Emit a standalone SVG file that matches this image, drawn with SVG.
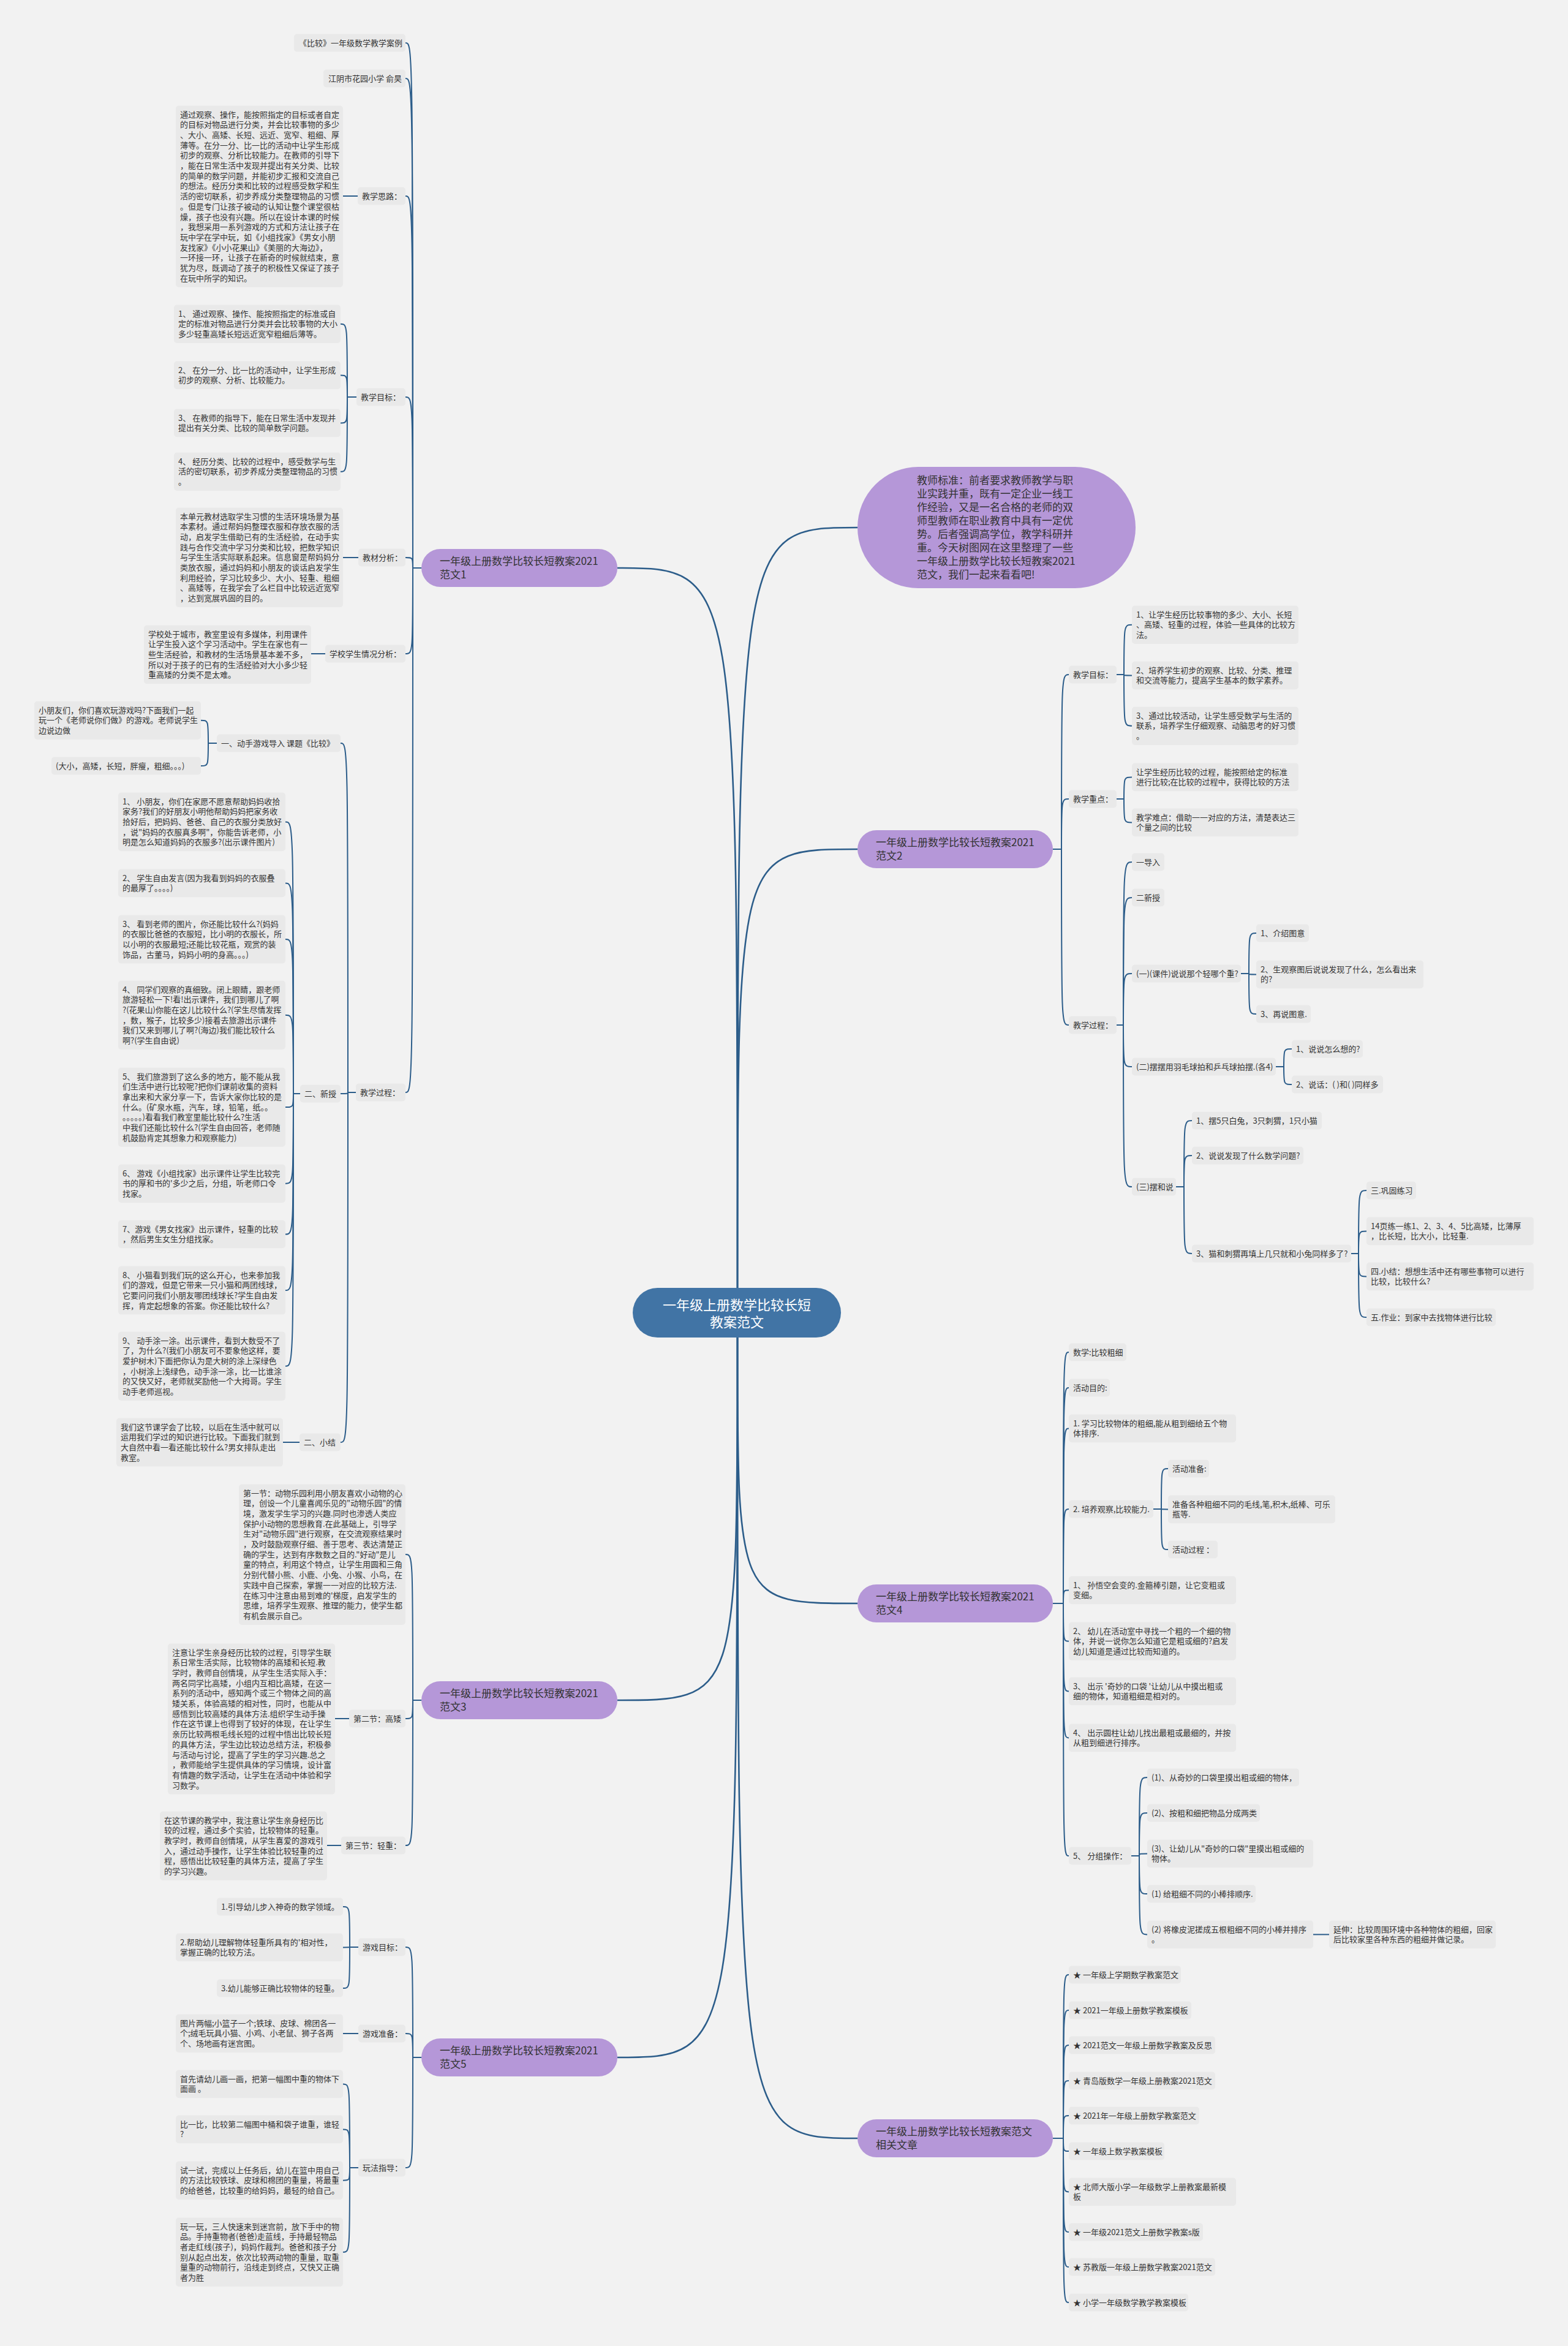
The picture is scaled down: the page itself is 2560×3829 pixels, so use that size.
<svg xmlns="http://www.w3.org/2000/svg" width="2560" height="3829" viewBox="0 0 2560 3829">
<style>
.nd rect{fill:#e9e9e9}
.nd text{font-family:"Noto Sans CJK SC","Microsoft YaHei",sans-serif;font-size:13px;fill:#333}
.br rect{fill:#b597d8}
.br text{font-family:"Noto Sans CJK SC","Microsoft YaHei",sans-serif;font-size:17px;fill:#333}
.rt rect{fill:#4174a5}
.rt text{font-family:"Noto Sans CJK SC","Microsoft YaHei",sans-serif;font-size:22px;fill:#fff;text-anchor:middle}
.cn path{fill:none;stroke:#2c5d8a;stroke-width:2}
.cn path.m{stroke-width:2.6}
</style>
<rect width="2560" height="3829" fill="#f2f2f2"/>
<g class="cn" id="connectors">
<path class="m" d="M1204,2102 C1204,927 1204,927 1008,927"/>
<path class="m" d="M1204,2102 C1204,861 1204,861 1400,861"/>
<path class="m" d="M1204,2102 C1204,1386 1204,1386 1400,1386"/>
<path class="m" d="M1204,2183 C1204,2775 1204,2775 1008,2775"/>
<path class="m" d="M1204,2183 C1204,3358 1204,3358 1008,3358"/>
<path class="m" d="M1204,2183 C1204,2617 1204,2617 1400,2617"/>
<path class="m" d="M1204,2183 C1204,3490 1204,3490 1400,3490"/>
<path d="M688,927 H674"/>
<path d="M674,927 C674,70 674,70 662,70"/>
<path d="M674,927 C674,128 674,128 662,128"/>
<path d="M674,927 C674,320 674,320 662,320"/>
<path d="M674,927 C674,648 674,648 662,648"/>
<path d="M674,927 C674,910 674,910 662,910"/>
<path d="M674,927 C674,1067 674,1067 662,1067"/>
<path d="M674,927 C674,1783 674,1783 662,1783"/>
<path d="M584,320 H560"/>
<path d="M582,648 H567"/>
<path d="M567,648 C567,528.7 567,528.7 556,528.7"/>
<path d="M567,648 C567,612.4 567,612.4 556,612.4"/>
<path d="M567,648 C567,690.4 567,690.4 556,690.4"/>
<path d="M567,648 C567,769.7 567,769.7 556,769.7"/>
<path d="M585,910 H560"/>
<path d="M531,1067 H508"/>
<path d="M581,1783 H568"/>
<path d="M568,1783 C568,1213 568,1213 556,1213"/>
<path d="M568,1783 C568,1785 568,1785 556,1785"/>
<path d="M568,1783 C568,2354 568,2354 556,2354"/>
<path d="M354,1213 H340"/>
<path d="M340,1213 C340,1175.7 340,1175.7 328,1175.7"/>
<path d="M340,1213 C340,1250 340,1250 328,1250"/>
<path d="M490,1785 H479"/>
<path d="M479,1785 C479,1341.4 479,1341.4 466,1341.4"/>
<path d="M479,1785 C479,1441.4 479,1441.4 466,1441.4"/>
<path d="M479,1785 C479,1533 479,1533 466,1533"/>
<path d="M479,1785 C479,1656.8 479,1656.8 466,1656.8"/>
<path d="M479,1785 C479,1807.1 479,1807.1 466,1807.1"/>
<path d="M479,1785 C479,1931.7 479,1931.7 466,1931.7"/>
<path d="M479,1785 C479,2014.4 479,2014.4 466,2014.4"/>
<path d="M479,1785 C479,2106 479,2106 466,2106"/>
<path d="M479,1785 C479,2229.8 479,2229.8 466,2229.8"/>
<path d="M489,2354 H462"/>
<path d="M688,2775 H674"/>
<path d="M674,2775 C674,2537 674,2537 662,2537"/>
<path d="M674,2775 C674,2805 674,2805 662,2805"/>
<path d="M674,2775 C674,3012 674,3012 662,3012"/>
<path d="M570,2805 H547"/>
<path d="M557,3012 H534"/>
<path d="M688,3358 H674"/>
<path d="M674,3358 C674,3178 674,3178 662,3178"/>
<path d="M674,3358 C674,3319 674,3319 662,3319"/>
<path d="M674,3358 C674,3538 674,3538 662,3538"/>
<path d="M585,3178 H571"/>
<path d="M571,3178 C571,3112 571,3112 560,3112"/>
<path d="M571,3178 C571,3178.4 571,3178.4 560,3178.4"/>
<path d="M571,3178 C571,3245 571,3245 560,3245"/>
<path d="M585,3319 H560"/>
<path d="M585,3538 H571"/>
<path d="M571,3538 C571,3401.4 571,3401.4 560,3401.4"/>
<path d="M571,3538 C571,3475.4 571,3475.4 560,3475.4"/>
<path d="M571,3538 C571,3558.7 571,3558.7 560,3558.7"/>
<path d="M571,3538 C571,3675.8 571,3675.8 560,3675.8"/>
<path d="M1719,1386 H1733"/>
<path d="M1733,1386 C1733,1101 1733,1101 1745,1101"/>
<path d="M1733,1386 C1733,1304 1733,1304 1745,1304"/>
<path d="M1733,1386 C1733,1673 1733,1673 1745,1673"/>
<path d="M1823,1101 H1835"/>
<path d="M1835,1101 C1835,1019.7 1835,1019.7 1848,1019.7"/>
<path d="M1835,1101 C1835,1102.4 1835,1102.4 1848,1102.4"/>
<path d="M1835,1101 C1835,1184.7 1835,1184.7 1848,1184.7"/>
<path d="M1823,1304 H1835"/>
<path d="M1835,1304 C1835,1268.4 1835,1268.4 1848,1268.4"/>
<path d="M1835,1304 C1835,1342.4 1835,1342.4 1848,1342.4"/>
<path d="M1823,1673 H1834"/>
<path d="M1834,1673 C1834,1407 1834,1407 1848,1407"/>
<path d="M1834,1673 C1834,1465 1834,1465 1848,1465"/>
<path d="M1834,1673 C1834,1589 1834,1589 1848,1589"/>
<path d="M1834,1673 C1834,1741 1834,1741 1848,1741"/>
<path d="M1834,1673 C1834,1937 1834,1937 1848,1937"/>
<path d="M2026,1589 H2039"/>
<path d="M2039,1589 C2039,1523 2039,1523 2051,1523"/>
<path d="M2039,1589 C2039,1590.4 2039,1590.4 2051,1590.4"/>
<path d="M2039,1589 C2039,1655 2039,1655 2051,1655"/>
<path d="M2083,1741 H2096"/>
<path d="M2096,1741 C2096,1712 2096,1712 2109,1712"/>
<path d="M2096,1741 C2096,1770 2096,1770 2109,1770"/>
<path d="M1920,1937 H1933"/>
<path d="M1933,1937 C1933,1829 1933,1829 1946,1829"/>
<path d="M1933,1937 C1933,1886 1933,1886 1946,1886"/>
<path d="M1933,1937 C1933,2046 1933,2046 1946,2046"/>
<path d="M2206,2046 H2218"/>
<path d="M2218,2046 C2218,1943 2218,1943 2231,1943"/>
<path d="M2218,2046 C2218,2009.4 2218,2009.4 2231,2009.4"/>
<path d="M2218,2046 C2218,2083.4 2218,2083.4 2231,2083.4"/>
<path d="M2218,2046 C2218,2150 2218,2150 2231,2150"/>
<path d="M1719,2617 H1736"/>
<path d="M1736,2617 C1736,2207 1736,2207 1745,2207"/>
<path d="M1736,2617 C1736,2265 1736,2265 1745,2265"/>
<path d="M1736,2617 C1736,2331.4 1736,2331.4 1745,2331.4"/>
<path d="M1736,2617 C1736,2463 1736,2463 1745,2463"/>
<path d="M1736,2617 C1736,2595.4 1736,2595.4 1745,2595.4"/>
<path d="M1736,2617 C1736,2678.7 1736,2678.7 1745,2678.7"/>
<path d="M1736,2617 C1736,2760.4 1736,2760.4 1745,2760.4"/>
<path d="M1736,2617 C1736,2836.4 1736,2836.4 1745,2836.4"/>
<path d="M1736,2617 C1736,3029 1736,3029 1745,3029"/>
<path d="M1883,2463 H1896"/>
<path d="M1896,2463 C1896,2397 1896,2397 1907,2397"/>
<path d="M1896,2463 C1896,2463.4 1896,2463.4 1907,2463.4"/>
<path d="M1896,2463 C1896,2529 1896,2529 1907,2529"/>
<path d="M1847,3029 H1860"/>
<path d="M1860,3029 C1860,2901 1860,2901 1873,2901"/>
<path d="M1860,3029 C1860,2959 1860,2959 1873,2959"/>
<path d="M1860,3029 C1860,3025.4 1860,3025.4 1873,3025.4"/>
<path d="M1860,3029 C1860,3091 1860,3091 1873,3091"/>
<path d="M1860,3029 C1860,3157.4 1860,3157.4 1873,3157.4"/>
<path d="M2144,3157.4 H2170"/>
<path d="M1719,3490 H1736"/>
<path d="M1736,3490 C1736,3223 1736,3223 1745,3223"/>
<path d="M1736,3490 C1736,3281 1736,3281 1745,3281"/>
<path d="M1736,3490 C1736,3338 1736,3338 1745,3338"/>
<path d="M1736,3490 C1736,3396 1736,3396 1745,3396"/>
<path d="M1736,3490 C1736,3453 1736,3453 1745,3453"/>
<path d="M1736,3490 C1736,3511 1736,3511 1745,3511"/>
<path d="M1736,3490 C1736,3577.4 1736,3577.4 1745,3577.4"/>
<path d="M1736,3490 C1736,3643 1736,3643 1745,3643"/>
<path d="M1736,3490 C1736,3700 1736,3700 1745,3700"/>
<path d="M1736,3490 C1736,3758 1736,3758 1745,3758"/>
</g>

<g id="root" class="rt"><rect x="1033" y="2102" width="340" height="81" rx="40.5"/><text x="1203" y="2138">一年级上册数学比较长短</text><text x="1203" y="2166">教案范文</text></g>

<g id="intro" class="br"><rect x="1400" y="762" width="454" height="198" rx="99"/><text x="1497"><tspan x="1497" y="790">教师标准：前者要求教师教学与职</tspan><tspan x="1497" y="812">业实践并重，既有一定企业一线工</tspan><tspan x="1497" y="834">作经验，又是一名合格的老师的双</tspan><tspan x="1497" y="856">师型教师在职业教育中具有一定优</tspan><tspan x="1497" y="878">势。后者强调高学位，教学科研并</tspan><tspan x="1497" y="900">重。今天树图网在这里整理了一些</tspan><tspan x="1497" y="922">一年级上册数学比较长短教案2021</tspan><tspan x="1497" y="944">范文，我们一起来看看吧!</tspan></text></g>

<g id="b1" class="br"><rect x="688" y="896" width="320" height="62" rx="31"/><text><tspan x="718" y="922">一年级上册数学比较长短教案2021</tspan><tspan x="718" y="944">范文1</tspan></text></g>
<g id="b3" class="br"><rect x="688" y="2744" width="320" height="62" rx="31"/><text><tspan x="718" y="2770">一年级上册数学比较长短教案2021</tspan><tspan x="718" y="2792">范文3</tspan></text></g>
<g id="b5" class="br"><rect x="688" y="3327" width="320" height="62" rx="31"/><text><tspan x="718" y="3353">一年级上册数学比较长短教案2021</tspan><tspan x="718" y="3375">范文5</tspan></text></g>
<g id="b2" class="br"><rect x="1400" y="1355" width="319" height="62" rx="31"/><text><tspan x="1430" y="1381">一年级上册数学比较长短教案2021</tspan><tspan x="1430" y="1403">范文2</tspan></text></g>
<g id="b4" class="br"><rect x="1400" y="2586" width="319" height="62" rx="31"/><text><tspan x="1430" y="2612">一年级上册数学比较长短教案2021</tspan><tspan x="1430" y="2634">范文4</tspan></text></g>
<g id="b6" class="br"><rect x="1400" y="3459" width="319" height="62" rx="31"/><text><tspan x="1430" y="3485">一年级上册数学比较长短教案范文</tspan><tspan x="1430" y="3507">相关文章</tspan></text></g>

<g id="n1-1" class="nd"><rect x="480" y="55.5" width="182" height="29" rx="5"/><text x="488" y="74.5">《比较》一年级数学教学案例</text></g>
<g id="n1-2" class="nd"><rect x="528" y="113.5" width="134" height="29" rx="5"/><text x="536" y="132.5">江阴市花园小学 俞昊</text></g>
<g id="n1-3" class="nd"><rect x="584" y="305.5" width="78" height="29" rx="5"/><text x="591" y="324.5">教学思路：</text></g>
<g id="n1-3a" class="nd"><rect x="287" y="172.5" width="273" height="296.2" rx="5"/><text><tspan x="294" y="191.5">通过观察、操作，能按照指定的目标或者自定</tspan><tspan x="294" y="208.2">的目标对物品进行分类，并会比较事物的多少</tspan><tspan x="294" y="224.9">、大小、高矮、长短、远近、宽窄、粗细、厚</tspan><tspan x="294" y="241.6">薄等。在分一分、比一比的活动中让学生形成</tspan><tspan x="294" y="258.3">初步的观察、分析比较能力。在教师的引导下</tspan><tspan x="294" y="275">，能在日常生活中发现并提出有关分类、比较</tspan><tspan x="294" y="291.7">的简单的数学问题，并能初步汇报和交流自己</tspan><tspan x="294" y="308.4">的想法。经历分类和比较的过程感受数学和生</tspan><tspan x="294" y="325.1">活的密切联系，初步养成分类整理物品的习惯</tspan><tspan x="294" y="341.8">。但是专门让孩子被动的认知让整个课堂很枯</tspan><tspan x="294" y="358.5">燥，孩子也没有兴趣。所以在设计本课的时候</tspan><tspan x="294" y="375.2">，我想采用一系列游戏的方式和方法让孩子在</tspan><tspan x="294" y="391.9">玩中学在学中玩，如《小组找家》《男女小朋</tspan><tspan x="294" y="408.6">友找家》《小小花果山》《美丽的大海边》，</tspan><tspan x="294" y="425.3">一环接一环，让孩子在新奇的时候就结束，意</tspan><tspan x="294" y="442">犹为尽，既调动了孩子的积极性又保证了孩子</tspan><tspan x="294" y="458.7">在玩中所学的知识。</tspan></text></g>
<g id="n1-4" class="nd"><rect x="582" y="633.5" width="80" height="29" rx="5"/><text x="589" y="652.5">教学目标：</text></g>
<g id="n1-4a" class="nd"><rect x="284" y="497.5" width="272" height="62.4" rx="5"/><text><tspan x="291" y="516.5">1、 通过观察、操作、能按照指定的标准或自</tspan><tspan x="291" y="533.2">定的标准对物品进行分类并会比较事物的大小</tspan><tspan x="291" y="549.9">多少轻重高矮长短远近宽窄粗细后薄等。</tspan></text></g>
<g id="n1-4b" class="nd"><rect x="284" y="589.5" width="272" height="45.7" rx="5"/><text><tspan x="291" y="608.5">2、 在分一分、比一比的活动中，让学生形成</tspan><tspan x="291" y="625.2">初步的观察、分析、比较能力。</tspan></text></g>
<g id="n1-4c" class="nd"><rect x="284" y="667.5" width="272" height="45.7" rx="5"/><text><tspan x="291" y="686.5">3、 在教师的指导下，能在日常生活中发现并</tspan><tspan x="291" y="703.2">提出有关分类、比较的简单数学问题。</tspan></text></g>
<g id="n1-4d" class="nd"><rect x="284" y="738.5" width="272" height="62.4" rx="5"/><text><tspan x="291" y="757.5">4、 经历分类、比较的过程中，感受数学与生</tspan><tspan x="291" y="774.2">活的密切联系，初步养成分类整理物品的习惯</tspan><tspan x="291" y="790.9">。</tspan></text></g>
<g id="n1-5" class="nd"><rect x="585" y="895.5" width="77" height="29" rx="5"/><text x="592" y="914.5">教材分析：</text></g>
<g id="n1-5a" class="nd"><rect x="287" y="828.5" width="273" height="162.6" rx="5"/><text><tspan x="294" y="847.5">本单元教材选取学生习惯的生活环境场景为基</tspan><tspan x="294" y="864.2">本素材。通过帮妈妈整理衣服和存放衣服的活</tspan><tspan x="294" y="880.9">动，启发学生借助已有的生活经验，在动手实</tspan><tspan x="294" y="897.6">践与合作交流中学习分类和比较，把数学知识</tspan><tspan x="294" y="914.3">与学生生活实际联系起来。信息窗是帮妈妈分</tspan><tspan x="294" y="931">类放衣服，通过妈妈和小朋友的谈话启发学生</tspan><tspan x="294" y="947.7">利用经验，学习比较多少、大小、轻重、粗细</tspan><tspan x="294" y="964.4">、高矮等，在我学会了么栏目中比较远近宽窄</tspan><tspan x="294" y="981.1">，达到宽展巩固的目的。</tspan></text></g>
<g id="n1-6" class="nd"><rect x="531" y="1052.5" width="131" height="29" rx="5"/><text x="538" y="1071.5">学校学生情况分析：</text></g>
<g id="n1-6a" class="nd"><rect x="235" y="1020.5" width="273" height="95.8" rx="5"/><text><tspan x="242" y="1039.5">学校处于城市，教室里设有多媒体，利用课件</tspan><tspan x="242" y="1056.2">让学生投入这个学习活动中。学生在家也有一</tspan><tspan x="242" y="1072.9">些生活经验，和教材的生活场景基本差不多，</tspan><tspan x="242" y="1089.6">所以对于孩子的已有的生活经验对大小多少轻</tspan><tspan x="242" y="1106.3">重高矮的分类不是太难。</tspan></text></g>
<g id="n1-7" class="nd"><rect x="581" y="1768.5" width="81" height="29" rx="5"/><text x="588" y="1787.5">教学过程：</text></g>
<g id="n1-7a" class="nd"><rect x="354" y="1198.5" width="202" height="29" rx="5"/><text x="361" y="1217.5">一、动手游戏导入 课题《比较》</text></g>
<g id="n1-7a1" class="nd"><rect x="56" y="1144.5" width="272" height="62.4" rx="5"/><text><tspan x="63" y="1163.5">小朋友们，你们喜欢玩游戏吗?下面我们一起</tspan><tspan x="63" y="1180.2">玩一个《老师说你们做》的游戏。老师说学生</tspan><tspan x="63" y="1196.9">边说边做</tspan></text></g>
<g id="n1-7a2" class="nd"><rect x="84" y="1235.5" width="244" height="29" rx="5"/><text x="91" y="1254.5">(大小，高矮，长短，胖瘦，粗细。。。)</text></g>
<g id="n1-7b" class="nd"><rect x="490" y="1770.5" width="66" height="29" rx="5"/><text x="497" y="1789.5">二、新授</text></g>
<g id="n1-7b1" class="nd"><rect x="193" y="1293.5" width="273" height="95.8" rx="5"/><text><tspan x="200" y="1312.5">1、 小朋友，你们在家愿不愿意帮助妈妈收拾</tspan><tspan x="200" y="1329.2">家务?我们的好朋友小明他帮助妈妈把家务收</tspan><tspan x="200" y="1345.9">拾好后，把妈妈、爸爸、自己的衣服分类放好</tspan><tspan x="200" y="1362.6">，说"妈妈的衣服真多啊"，你能告诉老师，小</tspan><tspan x="200" y="1379.3">明是怎么知道妈妈的衣服多?(出示课件图片)</tspan></text></g>
<g id="n1-7b2" class="nd"><rect x="193" y="1418.5" width="273" height="45.7" rx="5"/><text><tspan x="200" y="1437.5">2、 学生自由发言(因为我看到妈妈的衣服叠</tspan><tspan x="200" y="1454.2">的最厚了。。。。)</tspan></text></g>
<g id="n1-7b3" class="nd"><rect x="193" y="1493.5" width="273" height="79.1" rx="5"/><text><tspan x="200" y="1512.5">3、 看到老师的图片，你还能比较什么?(妈妈</tspan><tspan x="200" y="1529.2">的衣服比爸爸的衣服短，比小明的衣服长，所</tspan><tspan x="200" y="1545.9">以小明的衣服最短;还能比较花瓶，观赏的装</tspan><tspan x="200" y="1562.6">饰品，古董马，妈妈小明的身高。。。)</tspan></text></g>
<g id="n1-7b4" class="nd"><rect x="193" y="1600.5" width="273" height="112.5" rx="5"/><text><tspan x="200" y="1619.5">4、 同学们观察的真细致。闭上眼睛，跟老师</tspan><tspan x="200" y="1636.2">旅游轻松一下!看!出示课件，我们到哪儿了啊</tspan><tspan x="200" y="1652.9">?(花果山)你能在这儿比较什么?(学生尽情发挥</tspan><tspan x="200" y="1669.6">，数，猴子，比较多少)接着去旅游出示课件</tspan><tspan x="200" y="1686.3">我们又来到哪儿了啊?(海边)我们能比较什么</tspan><tspan x="200" y="1703">啊?(学生自由说)</tspan></text></g>
<g id="n1-7b5" class="nd"><rect x="193" y="1742.5" width="273" height="129.2" rx="5"/><text><tspan x="200" y="1761.5">5、 我们旅游到了这么多的地方，能不能从我</tspan><tspan x="200" y="1778.2">们生活中进行比较呢?把你们课前收集的资料</tspan><tspan x="200" y="1794.9">拿出来和大家分享一下，告诉大家你比较的是</tspan><tspan x="200" y="1811.6">什么。(矿泉水瓶，汽车，球，铅笔，纸。。</tspan><tspan x="200" y="1828.3">。。。。。)看看我们教室里能比较什么?生活</tspan><tspan x="200" y="1845">中我们还能比较什么?(学生自由回答，老师随</tspan><tspan x="200" y="1861.7">机鼓励肯定其想象力和观察能力)</tspan></text></g>
<g id="n1-7b6" class="nd"><rect x="193" y="1900.5" width="273" height="62.4" rx="5"/><text><tspan x="200" y="1919.5">6、 游戏《小组找家》出示课件让学生比较完</tspan><tspan x="200" y="1936.2">书的厚和书的'多少之后，分组，听老师口令</tspan><tspan x="200" y="1952.9">找家。</tspan></text></g>
<g id="n1-7b7" class="nd"><rect x="193" y="1991.5" width="273" height="45.7" rx="5"/><text><tspan x="200" y="2010.5">7、游戏《男女找家》出示课件，轻重的比较</tspan><tspan x="200" y="2027.2">，然后男生女生分组找家。</tspan></text></g>
<g id="n1-7b8" class="nd"><rect x="193" y="2066.5" width="273" height="79.1" rx="5"/><text><tspan x="200" y="2085.5">8、 小猫看到我们玩的这么开心，也来参加我</tspan><tspan x="200" y="2102.2">们的游戏，但是它带来一只小猫和两团线球，</tspan><tspan x="200" y="2118.9">它要问问我们小朋友哪团线球长?学生自由发</tspan><tspan x="200" y="2135.6">挥，肯定起想象的答案。你还能比较什么?</tspan></text></g>
<g id="n1-7b9" class="nd"><rect x="193" y="2173.5" width="273" height="112.5" rx="5"/><text><tspan x="200" y="2192.5">9、 动手涂一涂。出示课件，看到大数受不了</tspan><tspan x="200" y="2209.2">了，为什么?(我们小朋友可不要象他这样，要</tspan><tspan x="200" y="2225.9">爱护树木)下面把你认为是大树的涂上深绿色</tspan><tspan x="200" y="2242.6">，小树涂上浅绿色，动手涂一涂，比一比谁涂</tspan><tspan x="200" y="2259.3">的又快又好，老师就奖励他一个大拇哥。学生</tspan><tspan x="200" y="2276">动手老师巡视。</tspan></text></g>
<g id="n1-7c" class="nd"><rect x="489" y="2339.5" width="67" height="29" rx="5"/><text x="496" y="2358.5">二、小结</text></g>
<g id="n1-7c1" class="nd"><rect x="190" y="2314.5" width="272" height="79.1" rx="5"/><text><tspan x="197" y="2333.5">我们这节课学会了比较，以后在生活中就可以</tspan><tspan x="197" y="2350.2">运用我们学过的知识进行比较。下面我们就到</tspan><tspan x="197" y="2366.9">大自然中看一看还能比较什么?男女排队走出</tspan><tspan x="197" y="2383.6">教室。</tspan></text></g>

<g id="n3-1" class="nd"><rect x="390" y="2422.5" width="272" height="229.4" rx="5"/><text><tspan x="397" y="2441.5">第一节：动物乐园利用小朋友喜欢小动物的心</tspan><tspan x="397" y="2458.2">理，创设一个儿童喜闻乐见的"动物乐园"的情</tspan><tspan x="397" y="2474.9">境，激发学生学习的兴趣.同时也渗透人类应</tspan><tspan x="397" y="2491.6">保护小动物的思想教育.在此基础上，引导学</tspan><tspan x="397" y="2508.3">生对"动物乐园"进行观察，在交流观察结果时</tspan><tspan x="397" y="2525">，及时鼓励观察仔细、善于思考、表达清楚正</tspan><tspan x="397" y="2541.7">确的学生，达到有序数数之目的."好动"是儿</tspan><tspan x="397" y="2558.4">童的特点，利用这个特点，让学生用圆和三角</tspan><tspan x="397" y="2575.1">分别代替小熊、小鹿、小兔、小猴、小鸟，在</tspan><tspan x="397" y="2591.8">实践中自己探索，掌握一一对应的比较方法.</tspan><tspan x="397" y="2608.5">在练习中注意由易到难的'梯度，启发学生的</tspan><tspan x="397" y="2625.2">思维，培养学生观察、推理的能力，使学生都</tspan><tspan x="397" y="2641.9">有机会展示自己。</tspan></text></g>
<g id="n3-2" class="nd"><rect x="570" y="2790.5" width="92" height="29" rx="5"/><text x="577" y="2809.5">第二节：高矮</text></g>
<g id="n3-2a" class="nd"><rect x="274" y="2682.5" width="273" height="246.1" rx="5"/><text><tspan x="281" y="2701.5">注意让学生亲身经历比较的过程，引导学生联</tspan><tspan x="281" y="2718.2">系日常生活实际，比较物体的高矮和长短.教</tspan><tspan x="281" y="2734.9">学时，教师自创情境，从学生生活实际入手：</tspan><tspan x="281" y="2751.6">两名同学比高矮，小组内互相比高矮，在这一</tspan><tspan x="281" y="2768.3">系列的活动中，感知两个或三个物体之间的高</tspan><tspan x="281" y="2785">矮关系，体验高矮的相对性，同时，也能从中</tspan><tspan x="281" y="2801.7">感悟到比较高矮的具体方法.组织学生动手操</tspan><tspan x="281" y="2818.4">作在这节课上也得到了较好的体现，在让学生</tspan><tspan x="281" y="2835.1">亲历比较两根毛线长短的过程中悟出比较长短</tspan><tspan x="281" y="2851.8">的具体方法，学生边比较边总结方法，积极参</tspan><tspan x="281" y="2868.5">与活动与讨论，提高了学生的学习兴趣.总之</tspan><tspan x="281" y="2885.2">，教师能给学生提供具体的学习情境，设计富</tspan><tspan x="281" y="2901.9">有情趣的数学活动，让学生在活动中体验和学</tspan><tspan x="281" y="2918.6">习数学。</tspan></text></g>
<g id="n3-3" class="nd"><rect x="557" y="2997.5" width="105" height="29" rx="5"/><text x="564" y="3016.5">第三节：轻重：</text></g>
<g id="n3-3a" class="nd"><rect x="261" y="2956.5" width="273" height="112.5" rx="5"/><text><tspan x="268" y="2975.5">在这节课的教学中，我注意让学生亲身经历比</tspan><tspan x="268" y="2992.2">较的过程，通过多个实验，比较物体的轻重。</tspan><tspan x="268" y="3008.9">教学时，教师自创情境，从学生喜爱的游戏引</tspan><tspan x="268" y="3025.6">入，通过动手操作，让学生体验比较轻重的过</tspan><tspan x="268" y="3042.3">程，感悟出比较轻重的具体方法，提高了学生</tspan><tspan x="268" y="3059">的学习兴趣。</tspan></text></g>

<g id="n5-1" class="nd"><rect x="585" y="3163.5" width="77" height="29" rx="5"/><text x="592" y="3182.5">游戏目标：</text></g>
<g id="n5-1a" class="nd"><rect x="354" y="3097.5" width="206" height="29" rx="5"/><text x="361" y="3116.5">1.引导幼儿步入神奇的数学领域。</text></g>
<g id="n5-1b" class="nd"><rect x="287" y="3155.5" width="273" height="45.7" rx="5"/><text><tspan x="294" y="3174.5">2.帮助幼儿理解物体轻重所具有的'相对性，</tspan><tspan x="294" y="3191.2">掌握正确的比较方法。</tspan></text></g>
<g id="n5-1c" class="nd"><rect x="354" y="3230.5" width="206" height="29" rx="5"/><text x="361" y="3249.5">3.幼儿能够正确比较物体的轻重。</text></g>
<g id="n5-2" class="nd"><rect x="585" y="3304.5" width="77" height="29" rx="5"/><text x="592" y="3323.5">游戏准备：</text></g>
<g id="n5-2a" class="nd"><rect x="287" y="3287.5" width="273" height="62.4" rx="5"/><text><tspan x="294" y="3306.5">图片两幅;小篮子一个;铁球、皮球、棉团各一</tspan><tspan x="294" y="3323.2">个;绒毛玩具小猫、小鸡、小老鼠、狮子各两</tspan><tspan x="294" y="3339.9">个、场地画有迷宫图。</tspan></text></g>
<g id="n5-3" class="nd"><rect x="585" y="3523.5" width="77" height="29" rx="5"/><text x="592" y="3542.5">玩法指导：</text></g>
<g id="n5-3a" class="nd"><rect x="287" y="3378.5" width="273" height="45.7" rx="5"/><text><tspan x="294" y="3397.5">首先请幼儿画一画，把第一幅图中重的物体下</tspan><tspan x="294" y="3414.2">面画 。</tspan></text></g>
<g id="n5-3b" class="nd"><rect x="287" y="3452.5" width="273" height="45.7" rx="5"/><text><tspan x="294" y="3471.5">比一比，比较第二幅图中桶和袋子谁重，谁轻</tspan><tspan x="294" y="3488.2">?</tspan></text></g>
<g id="n5-3c" class="nd"><rect x="287" y="3527.5" width="273" height="62.4" rx="5"/><text><tspan x="294" y="3546.5">试一试，完成以上任务后，幼儿在篮中用自己</tspan><tspan x="294" y="3563.2">的方法比较铁球、皮球和棉团的重量，将最重</tspan><tspan x="294" y="3579.9">的给爸爸，比较重的给妈妈，最轻的给自己。</tspan></text></g>
<g id="n5-3d" class="nd"><rect x="287" y="3619.5" width="273" height="112.5" rx="5"/><text><tspan x="294" y="3638.5">玩一玩，三人快速来到迷宫前，放下手中的物</tspan><tspan x="294" y="3655.2">品。手持重物者(爸爸)走蓝线，手持最轻物品</tspan><tspan x="294" y="3671.9">者走红线(孩子)，妈妈作裁判。爸爸和孩子分</tspan><tspan x="294" y="3688.6">别从起点出发，依次比较两动物的重量，取重</tspan><tspan x="294" y="3705.3">量重的动物前行，沿线走到终点，又快又正确</tspan><tspan x="294" y="3722">者为胜</tspan></text></g>

<g id="n2-1" class="nd"><rect x="1745" y="1086.5" width="78" height="29" rx="5"/><text x="1752" y="1105.5">教学目标：</text></g>
<g id="n2-1a" class="nd"><rect x="1848" y="988.5" width="272" height="62.4" rx="5"/><text><tspan x="1855" y="1007.5">1、让学生经历比较事物的多少、大小、长短</tspan><tspan x="1855" y="1024.2">、高矮、轻重的过程，体验一些具体的比较方</tspan><tspan x="1855" y="1040.9">法。</tspan></text></g>
<g id="n2-1b" class="nd"><rect x="1848" y="1079.5" width="272" height="45.7" rx="5"/><text><tspan x="1855" y="1098.5">2、培养学生初步的观察、比较、分类、推理</tspan><tspan x="1855" y="1115.2">和交流等能力，提高学生基本的数学素养。</tspan></text></g>
<g id="n2-1c" class="nd"><rect x="1848" y="1153.5" width="272" height="62.4" rx="5"/><text><tspan x="1855" y="1172.5">3、通过比较活动，让学生感受数学与生活的</tspan><tspan x="1855" y="1189.2">联系，培养学生仔细观察、动脑思考的好习惯</tspan><tspan x="1855" y="1205.9">。</tspan></text></g>
<g id="n2-2" class="nd"><rect x="1745" y="1289.5" width="78" height="29" rx="5"/><text x="1752" y="1308.5">教学重点：</text></g>
<g id="n2-2a" class="nd"><rect x="1848" y="1245.5" width="272" height="45.7" rx="5"/><text><tspan x="1855" y="1264.5">让学生经历比较的过程，能按照给定的标准</tspan><tspan x="1855" y="1281.2">进行比较;在比较的过程中，获得比较的方法</tspan></text></g>
<g id="n2-2b" class="nd"><rect x="1848" y="1319.5" width="272" height="45.7" rx="5"/><text><tspan x="1855" y="1338.5">教学难点：借助一一对应的方法，清楚表达三</tspan><tspan x="1855" y="1355.2">个量之间的比较</tspan></text></g>
<g id="n2-3" class="nd"><rect x="1745" y="1658.5" width="78" height="29" rx="5"/><text x="1752" y="1677.5">教学过程：</text></g>
<g id="n2-3a" class="nd"><rect x="1848" y="1392.5" width="53" height="29" rx="5"/><text x="1855" y="1411.5">一导入</text></g>
<g id="n2-3b" class="nd"><rect x="1848" y="1450.5" width="53" height="29" rx="5"/><text x="1855" y="1469.5">二新授</text></g>
<g id="n2-3c" class="nd"><rect x="1848" y="1574.5" width="178" height="29" rx="5"/><text x="1855" y="1593.5">(一)(课件)说说那个轻哪个重?</text></g>
<g id="n2-3c1" class="nd"><rect x="2051" y="1508.5" width="86" height="29" rx="5"/><text x="2058" y="1527.5">1、介绍图意</text></g>
<g id="n2-3c2" class="nd"><rect x="2051" y="1567.5" width="273" height="45.7" rx="5"/><text><tspan x="2058" y="1586.5">2、生观察图后说说发现了什么，怎么看出来</tspan><tspan x="2058" y="1603.2">的?</tspan></text></g>
<g id="n2-3c3" class="nd"><rect x="2051" y="1640.5" width="89" height="29" rx="5"/><text x="2058" y="1659.5">3、再说图意.</text></g>
<g id="n2-3d" class="nd"><rect x="1848" y="1726.5" width="235" height="29" rx="5"/><text x="1855" y="1745.5">(二)摆摆用羽毛球拍和乒乓球拍摆.(各4)</text></g>
<g id="n2-3d1" class="nd"><rect x="2109" y="1697.5" width="116" height="29" rx="5"/><text x="2116" y="1716.5">1、说说怎么想的?</text></g>
<g id="n2-3d2" class="nd"><rect x="2109" y="1755.5" width="149" height="29" rx="5"/><text x="2116" y="1774.5">2、说话：( )和( )同样多</text></g>
<g id="n2-3e" class="nd"><rect x="1848" y="1922.5" width="72" height="29" rx="5"/><text x="1855" y="1941.5">(三)摆和说</text></g>
<g id="n2-3e1" class="nd"><rect x="1946" y="1814.5" width="212" height="29" rx="5"/><text x="1953" y="1833.5">1、摆5只白兔，3只刺猬，1只小猫</text></g>
<g id="n2-3e2" class="nd"><rect x="1946" y="1871.5" width="182" height="29" rx="5"/><text x="1953" y="1890.5">2、说说发现了什么数学问题?</text></g>
<g id="n2-3e3" class="nd"><rect x="1946" y="2031.5" width="260" height="29" rx="5"/><text x="1953" y="2050.5">3、猫和刺猬再填上几只就和小兔同样多了?</text></g>
<g id="n2-3e3a" class="nd"><rect x="2231" y="1928.5" width="81" height="29" rx="5"/><text x="2238" y="1947.5">三.巩固练习</text></g>
<g id="n2-3e3b" class="nd"><rect x="2231" y="1986.5" width="273" height="45.7" rx="5"/><text><tspan x="2238" y="2005.5">14页练一练1、2、3、4、5比高矮，比薄厚</tspan><tspan x="2238" y="2022.2">，比长短，比大小，比轻重.</tspan></text></g>
<g id="n2-3e3c" class="nd"><rect x="2231" y="2060.5" width="273" height="45.7" rx="5"/><text><tspan x="2238" y="2079.5">四.小结：想想生活中还有哪些事物可以进行</tspan><tspan x="2238" y="2096.2">比较，比较什么?</tspan></text></g>
<g id="n2-3e3d" class="nd"><rect x="2231" y="2135.5" width="211" height="29" rx="5"/><text x="2238" y="2154.5">五.作业：到家中去找物体进行比较</text></g>

<g id="n4-1" class="nd"><rect x="1745" y="2192.5" width="94" height="29" rx="5"/><text x="1752" y="2211.5">数学:比较粗细</text></g>
<g id="n4-2" class="nd"><rect x="1745" y="2250.5" width="67" height="29" rx="5"/><text x="1752" y="2269.5">活动目的:</text></g>
<g id="n4-3" class="nd"><rect x="1745" y="2308.5" width="273" height="45.7" rx="5"/><text><tspan x="1752" y="2327.5">1. 学习比较物体的粗细,能从粗到细给五个物</tspan><tspan x="1752" y="2344.2">体排序.</tspan></text></g>
<g id="n4-4" class="nd"><rect x="1745" y="2448.5" width="138" height="29" rx="5"/><text x="1752" y="2467.5">2. 培养观察,比较能力.</text></g>
<g id="n4-4a" class="nd"><rect x="1907" y="2382.5" width="67" height="29" rx="5"/><text x="1914" y="2401.5">活动准备:</text></g>
<g id="n4-4b" class="nd"><rect x="1907" y="2440.5" width="273" height="45.7" rx="5"/><text><tspan x="1914" y="2459.5">准备各种粗细不同的毛线,笔,积木,纸棒、可乐</tspan><tspan x="1914" y="2476.2">瓶等.</tspan></text></g>
<g id="n4-4c" class="nd"><rect x="1907" y="2514.5" width="81" height="29" rx="5"/><text x="1914" y="2533.5">活动过程 ：</text></g>
<g id="n4-5" class="nd"><rect x="1745" y="2572.5" width="273" height="45.7" rx="5"/><text><tspan x="1752" y="2591.5">1、 孙悟空会变的.金箍棒引题，让它变粗或</tspan><tspan x="1752" y="2608.2">变细。</tspan></text></g>
<g id="n4-6" class="nd"><rect x="1745" y="2647.5" width="273" height="62.4" rx="5"/><text><tspan x="1752" y="2666.5">2、 幼儿在活动室中寻找一个粗的一个细的物</tspan><tspan x="1752" y="2683.2">体，并说一说你怎么知道它是粗或细的?启发</tspan><tspan x="1752" y="2699.9">幼儿知道是通过比较而知道的。</tspan></text></g>
<g id="n4-7" class="nd"><rect x="1745" y="2737.5" width="273" height="45.7" rx="5"/><text><tspan x="1752" y="2756.5">3、 出示 '奇妙的口袋 '让幼儿从中摸出粗或</tspan><tspan x="1752" y="2773.2">细的物体，知道粗细是相对的。</tspan></text></g>
<g id="n4-8" class="nd"><rect x="1745" y="2813.5" width="273" height="45.7" rx="5"/><text><tspan x="1752" y="2832.5">4、 出示圆柱让幼儿找出最粗或最细的，并按</tspan><tspan x="1752" y="2849.2">从粗到细进行排序。</tspan></text></g>
<g id="n4-9" class="nd"><rect x="1745" y="3014.5" width="102" height="29" rx="5"/><text x="1752" y="3033.5">5、 分组操作：</text></g>
<g id="n4-9a" class="nd"><rect x="1873" y="2886.5" width="248" height="29" rx="5"/><text x="1880" y="2905.5">(1)、从奇妙的口袋里摸出粗或细的物体，</text></g>
<g id="n4-9b" class="nd"><rect x="1873" y="2944.5" width="184" height="29" rx="5"/><text x="1880" y="2963.5">(2)、按粗和细把物品分成两类</text></g>
<g id="n4-9c" class="nd"><rect x="1873" y="3002.5" width="271" height="45.7" rx="5"/><text><tspan x="1880" y="3021.5">(3)、让幼儿从"奇妙的口袋"里摸出粗或细的</tspan><tspan x="1880" y="3038.2">物体。</tspan></text></g>
<g id="n4-9d" class="nd"><rect x="1873" y="3076.5" width="177" height="29" rx="5"/><text x="1880" y="3095.5">(1) 给粗细不同的小棒排顺序.</text></g>
<g id="n4-9e" class="nd"><rect x="1873" y="3134.5" width="271" height="45.7" rx="5"/><text><tspan x="1880" y="3153.5">(2) 将橡皮泥搓成五根粗细不同的小棒并排序</tspan><tspan x="1880" y="3170.2">。</tspan></text></g>
<g id="n4-9e1" class="nd"><rect x="2170" y="3134.5" width="272" height="45.7" rx="5"/><text><tspan x="2177" y="3153.5">延伸：比较周围环境中各种物体的粗细，回家</tspan><tspan x="2177" y="3170.2">后比较家里各种东西的粗细并做记录。</tspan></text></g>

<g id="r1" class="nd"><rect x="1745" y="3208.5" width="183" height="29" rx="5"/><text x="1752" y="3227.5">★ 一年级上学期数学教案范文</text></g>
<g id="r2" class="nd"><rect x="1745" y="3266.5" width="200" height="29" rx="5"/><text x="1752" y="3285.5">★ 2021一年级上册数学教案模板</text></g>
<g id="r3" class="nd"><rect x="1745" y="3323.5" width="239" height="29" rx="5"/><text x="1752" y="3342.5">★ 2021范文一年级上册数学教案及反思</text></g>
<g id="r4" class="nd"><rect x="1745" y="3381.5" width="239" height="29" rx="5"/><text x="1752" y="3400.5">★ 青岛版数学一年级上册教案2021范文</text></g>
<g id="r5" class="nd"><rect x="1745" y="3438.5" width="213" height="29" rx="5"/><text x="1752" y="3457.5">★ 2021年一年级上册数学教案范文</text></g>
<g id="r6" class="nd"><rect x="1745" y="3496.5" width="156" height="29" rx="5"/><text x="1752" y="3515.5">★ 一年级上数学教案模板</text></g>
<g id="r7" class="nd"><rect x="1745" y="3554.5" width="273" height="45.7" rx="5"/><text><tspan x="1752" y="3573.5">★ 北师大版小学一年级数学上册教案最新模</tspan><tspan x="1752" y="3590.2">板</tspan></text></g>
<g id="r8" class="nd"><rect x="1745" y="3628.5" width="219" height="29" rx="5"/><text x="1752" y="3647.5">★ 一年级2021范文上册数学教案s版</text></g>
<g id="r9" class="nd"><rect x="1745" y="3685.5" width="239" height="29" rx="5"/><text x="1752" y="3704.5">★ 苏教版一年级上册数学教案2021范文</text></g>
<g id="r10" class="nd"><rect x="1745" y="3743.5" width="195" height="29" rx="5"/><text x="1752" y="3762.5">★ 小学一年级数学教学教案模板</text></g>
</svg>
